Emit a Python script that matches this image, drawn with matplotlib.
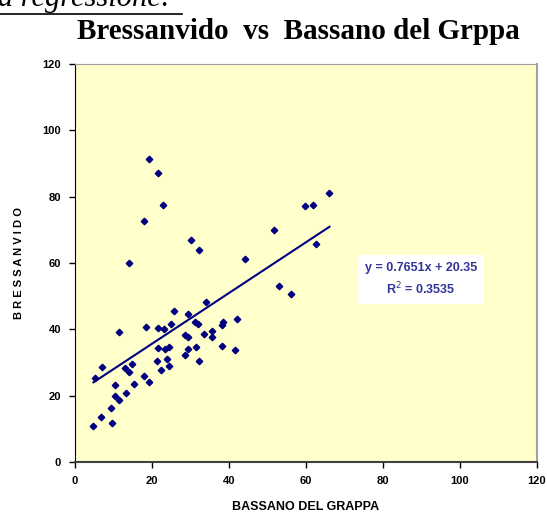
import matplotlib.pyplot as plt
from matplotlib.lines import Line2D

# Dati (Bassano del Grappa = x, Bressanvido = y)
bassano = [13.9, 18.0, 19.1, 21.5, 22.8, 30.2, 32.2, 44.1,
           66.1, 59.7, 61.9, 51.8, 62.5, 52.9, 56.1,
           4.8, 6.8, 5.2, 7.1, 9.7, 9.4, 10.4, 11.4, 10.5, 11.4,
           13.3, 12.9, 14.1, 14.8, 15.4, 18.0, 19.3, 18.4, 21.3, 21.5,
           22.3, 21.6, 23.2, 23.5, 24.0, 24.4, 24.5, 24.9, 25.6, 28.5,
           28.5, 29.3, 29.4, 29.4, 31.1, 32.0, 31.5, 32.1, 33.6, 33.9,
           35.6, 35.6, 38.2, 38.3, 38.4, 41.6, 42.1]
bressanvido = [59.9, 72.7, 91.3, 87.2, 77.5, 67.0, 63.8, 61.1,
               81.0, 77.3, 77.4, 69.9, 65.8, 53.1, 50.6,
               10.9, 13.7, 25.2, 28.7, 11.8, 16.4, 19.8, 18.7, 23.3, 39.1,
               20.9, 28.4, 27.1, 29.5, 23.5, 25.9, 24.2, 40.8, 30.4, 34.3,
               27.6, 40.3, 40.0, 34.1, 31.1, 34.8, 28.9, 41.7, 45.5, 32.3,
               38.4, 37.8, 34.2, 44.5, 42.2, 41.5, 34.8, 30.4, 38.6, 48.1,
               39.6, 37.6, 35.0, 41.2, 42.1, 33.9, 43.2]

# retta di regressione (Excel)
pendenza = 0.7651
intercetta = 20.35
r2 = 0.3535

ticks = [0, 20, 40, 60, 80, 100, 120]

fig = plt.figure(figsize=(5.47, 5.13), dpi=100)
W, H = 547, 513
ax = fig.add_axes([75 / W, 1 - 462 / H, (537 - 75) / W, (462 - 64) / H])
ax.set_facecolor('#FFFFCC')

ax.plot(bassano, bressanvido, linestyle='none', marker='D', markersize=3.3,
        color='#000080', zorder=3)

x_retta = [min(bassano), max(bassano)]
y_retta = [pendenza * x + intercetta for x in x_retta]
ax.plot(x_retta, y_retta, color='#000080', linewidth=1.5, zorder=2)

ax.set_xlim(0, 120)
ax.set_ylim(0, 120)
ax.set_xticks(ticks)
ax.set_yticks(ticks)
ax.set_xticklabels([str(t) for t in ticks])
ax.set_yticklabels([str(t) for t in ticks])
for lab in ax.get_xticklabels() + ax.get_yticklabels():
    lab.set_fontfamily('Liberation Sans')
    lab.set_fontweight('bold')
    lab.set_fontsize(8)
ax.tick_params(direction='out', length=4, width=1, pad=6, colors='black')

ax.spines['left'].set_color('black')
ax.spines['bottom'].set_color('#404040')
ax.spines['bottom'].set_linewidth(1.5)
ax.spines['top'].set_color('#A0A0A0')
ax.spines['right'].set_color('#A0A0A0')
ax.spines['right'].set_linewidth(1.5)

ax.set_xlabel('BASSANO DEL GRAPPA', fontfamily='Liberation Sans',
              fontweight='bold', fontsize=9, labelpad=11)
ax.set_ylabel('B R E S S A N V I D O', fontfamily='Liberation Sans',
              fontweight='bold', fontsize=8, labelpad=13)

testo = 'y = %.4fx + %.2f\nR$^2$ = %.4f' % (pendenza, intercetta, r2)
ax.text(89.8, 55.0, testo, ha='center', va='center', color='#333399',
        fontfamily='Liberation Sans', fontweight='bold', fontsize=9,
        linespacing=1.5,
        bbox=dict(facecolor='white', edgecolor='none', pad=5))

# titolo
fig.text(298 / W, 1 - 39 / H, 'Bressanvido  vs  Bassano del Grppa',
         ha='center', va='baseline', fontfamily='Liberation Serif',
         fontweight='bold', fontsize=21)

# testo tagliato in alto (pagina del documento)
fig.text(172 / W, 1 - 6 / H, 'Analisi della regressione:', ha='right',
         va='baseline', fontfamily='Liberation Serif', style='italic',
         fontsize=22)
fig.add_artist(Line2D([0, 182 / W], [1 - 14 / H, 1 - 14 / H],
                      color='black', linewidth=1.2))

fig.savefig('out.png', dpi=100)
